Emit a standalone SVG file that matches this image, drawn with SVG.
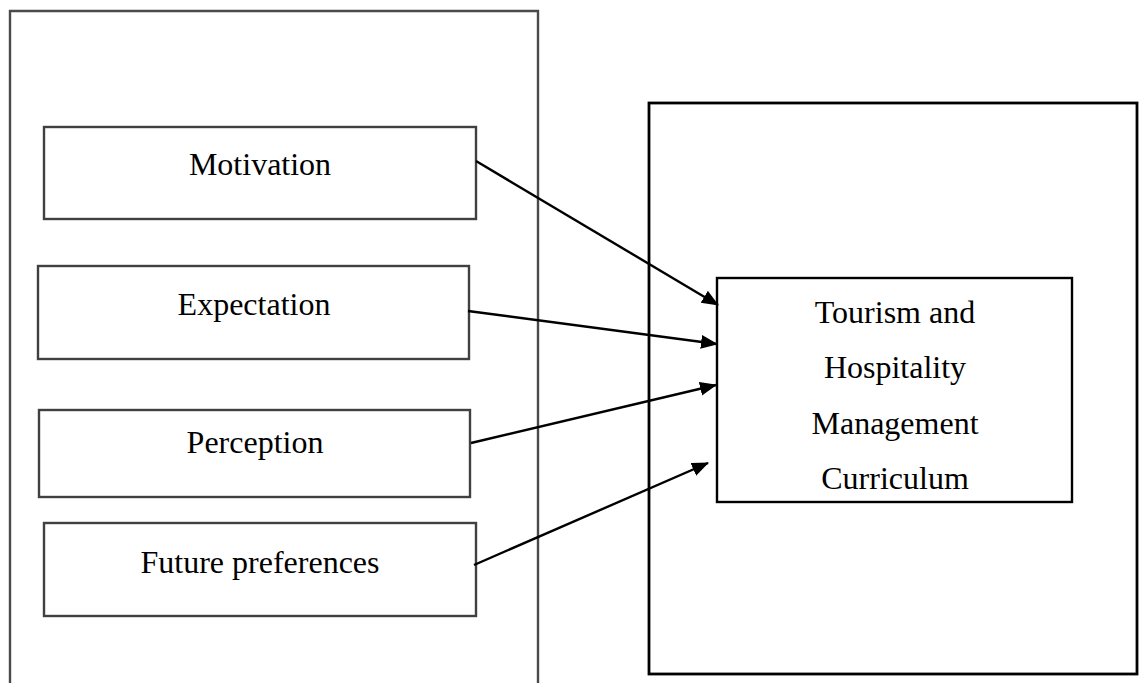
<svg xmlns="http://www.w3.org/2000/svg" width="1140" height="683" viewBox="0 0 1140 683">
<style>
.outer-l{fill:none;stroke:#4a4a4a;stroke-width:2.4}
.outer-r{fill:none;stroke:#000;stroke-width:2.8}
.box{fill:#fff;stroke:#404040;stroke-width:2.4}
.target{fill:#fff;stroke:#000;stroke-width:2.4}
.lbl{font-family:"Liberation Serif","Times New Roman",serif;font-size:32px;fill:#000;text-anchor:middle}
.conn{fill:none;stroke:#000;stroke-width:2.4}
</style>
<defs>
<marker id="arr" markerUnits="userSpaceOnUse" markerWidth="18" markerHeight="16" refX="16" refY="7" orient="auto">
<path d="M0,0 L17,7 L0,14 z" fill="#000"/>
</marker>
</defs>
<g id="left-frame"><path class="outer-l" d="M10,683 V11 H538 V683"/></g>
<g id="right-frame"><rect class="outer-r" x="649" y="103" width="488" height="571"/></g>
<g id="motivation"><rect class="box" x="44" y="127" width="432" height="92"/><text class="lbl" x="260" y="175">Motivation</text></g>
<g id="expectation"><rect class="box" x="38" y="266" width="431" height="93"/><text class="lbl" x="254" y="315">Expectation</text></g>
<g id="perception"><rect class="box" x="39" y="410" width="431" height="87"/><text class="lbl" x="255" y="453">Perception</text></g>
<g id="future"><rect class="box" x="44" y="523" width="432" height="93"/><text class="lbl" x="260" y="573">Future preferences</text></g>
<g id="curriculum"><rect class="target" x="717" y="278" width="355" height="224"/>
<text class="lbl" x="895" y="323">Tourism and</text>
<text class="lbl" x="895" y="378">Hospitality</text>
<text class="lbl" x="895" y="434">Management</text>
<text class="lbl" x="895" y="489">Curriculum</text></g>
<g id="connectors">
<line class="conn" x1="476" y1="161" x2="718" y2="305" marker-end="url(#arr)"/>
<line class="conn" x1="468" y1="311" x2="717" y2="344" marker-end="url(#arr)"/>
<line class="conn" x1="471" y1="443" x2="716" y2="385" marker-end="url(#arr)"/>
<line class="conn" x1="474" y1="565" x2="708" y2="463" marker-end="url(#arr)"/>
</g>
</svg>
